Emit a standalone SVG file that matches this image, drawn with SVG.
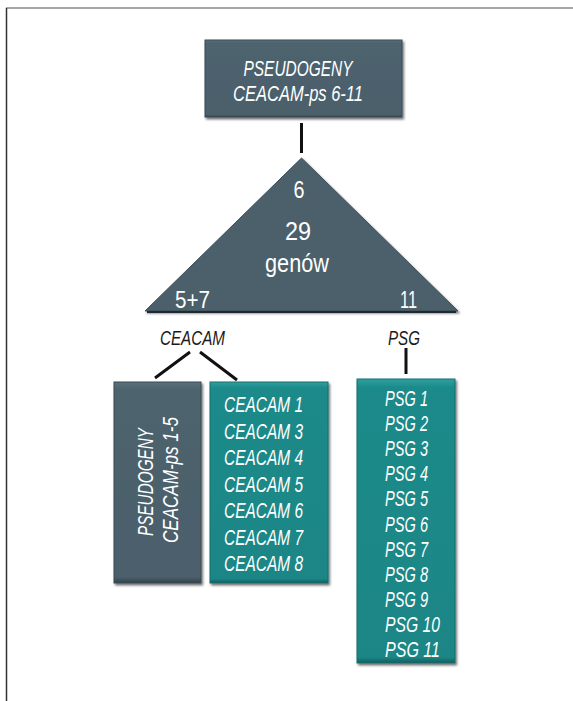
<svg xmlns="http://www.w3.org/2000/svg" width="573" height="701" viewBox="0 0 573 701">
<style>
.t{font-family:"Liberation Sans",Arial,sans-serif;fill:#fff;font-style:italic}
.n{font-family:"Liberation Sans",Arial,sans-serif;fill:#fff}
.k{font-family:"Liberation Sans",Arial,sans-serif;fill:#1a1a1a;font-style:italic}
.dark{fill:url(#gd);stroke:#3a4b55;stroke-width:1}
.teal{fill:url(#gt);stroke:#146e6e;stroke-width:1}
.c{stroke:#111;stroke-width:3;fill:none;stroke-linecap:butt}
</style>
<defs>
<linearGradient id="gd" x1="0" y1="0" x2="0" y2="1">
<stop offset="0" stop-color="#5a707b"/><stop offset="0.04" stop-color="#4d636e"/><stop offset="0.97" stop-color="#4b606b"/><stop offset="1" stop-color="#33434c"/>
</linearGradient>
<linearGradient id="gt" x1="0" y1="0" x2="0" y2="1">
<stop offset="0" stop-color="#2fa0a0"/><stop offset="0.03" stop-color="#1c8a8a"/><stop offset="0.98" stop-color="#1a8686"/><stop offset="1" stop-color="#0f5c5c"/>
</linearGradient>
<filter id="sh" x="-10%" y="-10%" width="130%" height="130%">
<feDropShadow dx="1.5" dy="2" stdDeviation="1.2" flood-color="#000" flood-opacity="0.55"/>
</filter>
</defs>
<g id="frame">
<line x1="6" y1="8" x2="573" y2="8" stroke="#8a8a8a" stroke-width="1.5"/>
<line x1="6.5" y1="8" x2="6.5" y2="701" stroke="#333" stroke-width="1.5"/>
</g>
<g id="connectors">
<line class="c" x1="301.5" y1="123" x2="301.5" y2="153"/>
<line class="c" x1="190" y1="352" x2="155" y2="378"/>
<line class="c" x1="200" y1="352" x2="237" y2="380"/>
<line class="c" x1="406" y1="348" x2="406" y2="374"/>
</g>
<g id="top-box">
<rect class="dark" x="205" y="40" width="197" height="77" filter="url(#sh)"/>
<text class="t" font-size="22" text-anchor="middle" x="298" y="76" textLength="109" lengthAdjust="spacingAndGlyphs">PSEUDOGENY</text>
<text class="t" font-size="22" text-anchor="middle" x="298" y="100.7" textLength="130" lengthAdjust="spacingAndGlyphs">CEACAM-ps 6-11</text>
</g>
<g id="triangle">
<polygon points="301.5,158 458,311 145,311" fill="#4b606b" stroke="#3d4f59" stroke-width="1" filter="url(#sh)"/>
<line x1="147" y1="312" x2="456" y2="312" stroke="#1e2a30" stroke-width="2"/>
<text class="n" font-size="23" text-anchor="middle" x="299" y="198" textLength="11" lengthAdjust="spacingAndGlyphs">6</text>
<text class="n" font-size="26" text-anchor="middle" x="298" y="240" textLength="26" lengthAdjust="spacingAndGlyphs">29</text>
<text class="n" font-size="26" text-anchor="middle" x="297" y="272" textLength="64" lengthAdjust="spacingAndGlyphs">genów</text>
<text class="n" font-size="23" x="175" y="308" textLength="35" lengthAdjust="spacingAndGlyphs">5+7</text>
<text class="n" font-size="23" x="400" y="308" textLength="17" lengthAdjust="spacingAndGlyphs">11</text>
</g>
<g id="label-ceacam">
<text class="k" font-size="21" x="160" y="345" textLength="65" lengthAdjust="spacingAndGlyphs">CEACAM</text>
</g>
<g id="label-psg">
<text class="k" font-size="21" x="388" y="345" textLength="32" lengthAdjust="spacingAndGlyphs">PSG</text>
</g>
<g id="pseudo-box">
<rect class="dark" x="114" y="382" width="87" height="201" filter="url(#sh)"/>
<text class="t" font-size="21.5" text-anchor="middle" transform="translate(153,482) rotate(-90)" textLength="108" lengthAdjust="spacingAndGlyphs">PSEUDOGENY</text>
<text class="t" font-size="21.5" text-anchor="middle" transform="translate(178,480) rotate(-90)" textLength="126" lengthAdjust="spacingAndGlyphs">CEACAM-ps 1-5</text>
</g>
<g id="ceacam-box">
<rect class="teal" x="210" y="382" width="118" height="201" filter="url(#sh)"/>
<g class="t" font-size="22.5">
<text x="224" y="412" textLength="79" lengthAdjust="spacingAndGlyphs">CEACAM 1</text>
<text x="224" y="438.5" textLength="79" lengthAdjust="spacingAndGlyphs">CEACAM 3</text>
<text x="224" y="465" textLength="79" lengthAdjust="spacingAndGlyphs">CEACAM 4</text>
<text x="224" y="491.5" textLength="79" lengthAdjust="spacingAndGlyphs">CEACAM 5</text>
<text x="224" y="518" textLength="79" lengthAdjust="spacingAndGlyphs">CEACAM 6</text>
<text x="224" y="544.5" textLength="79" lengthAdjust="spacingAndGlyphs">CEACAM 7</text>
<text x="224" y="571" textLength="79" lengthAdjust="spacingAndGlyphs">CEACAM 8</text>
</g>
</g>
<g id="psg-box">
<rect class="teal" x="357" y="379" width="98" height="284" filter="url(#sh)"/>
<g class="t" font-size="22">
<text x="385" y="406" textLength="43" lengthAdjust="spacingAndGlyphs">PSG 1</text>
<text x="385" y="431.1" textLength="43" lengthAdjust="spacingAndGlyphs">PSG 2</text>
<text x="385" y="456.2" textLength="43" lengthAdjust="spacingAndGlyphs">PSG 3</text>
<text x="385" y="481.3" textLength="43" lengthAdjust="spacingAndGlyphs">PSG 4</text>
<text x="385" y="506.4" textLength="43" lengthAdjust="spacingAndGlyphs">PSG 5</text>
<text x="385" y="531.5" textLength="43" lengthAdjust="spacingAndGlyphs">PSG 6</text>
<text x="385" y="556.6" textLength="43" lengthAdjust="spacingAndGlyphs">PSG 7</text>
<text x="385" y="581.7" textLength="43" lengthAdjust="spacingAndGlyphs">PSG 8</text>
<text x="385" y="606.8" textLength="43" lengthAdjust="spacingAndGlyphs">PSG 9</text>
<text x="385" y="631.9" textLength="55" lengthAdjust="spacingAndGlyphs">PSG 10</text>
<text x="385" y="657" textLength="55" lengthAdjust="spacingAndGlyphs">PSG 11</text>
</g>
</g>
</svg>
